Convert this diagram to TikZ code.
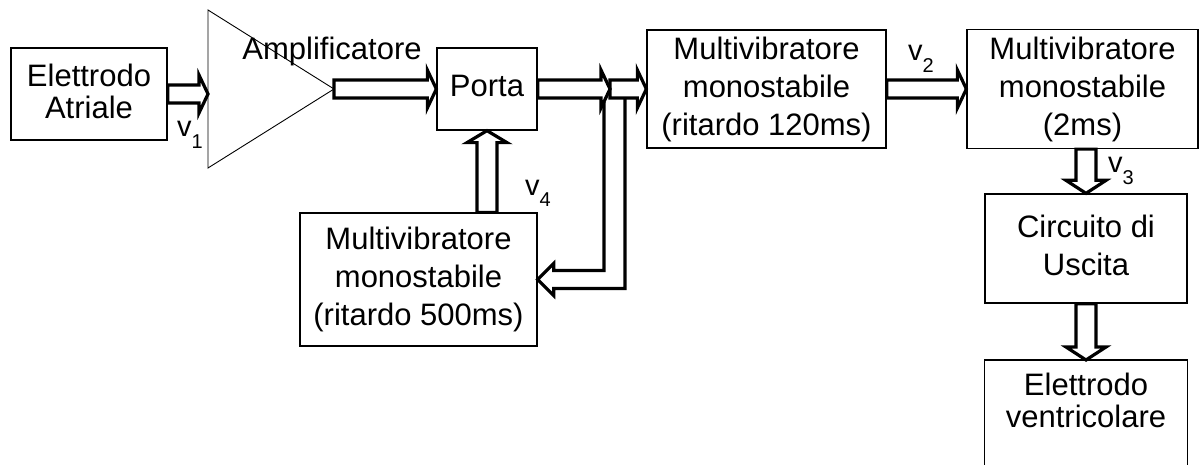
\documentclass[tikz,border=0pt]{standalone}
\usepackage{fontspec}
\setmainfont{Liberation Sans}
\usetikzlibrary{calc}

% freccia vuota orizzontale e verticale
\newcommand{\frecciaR}[2]{\draw[freccia] ($(#1)+(0,-9)$) -- ($(#2)+(-9,-9)$) -- ($(#2)+(-9,-19)$) -- (#2) -- ($(#2)+(-9,19)$) -- ($(#2)+(-9,9)$) -- ($(#1)+(0,9)$) -- cycle;}
\newcommand{\frecciaV}[3]{\draw[freccia] ($(#1)+(-10,0)$) -- ($(#2)+(-10,#3)$) -- ($(#2)+(-20,#3)$) -- (#2) -- ($(#2)+(20,#3)$) -- ($(#2)+(10,#3)$) -- ($(#1)+(10,0)$) -- cycle;}
\newcommand{\segn}[1]{v\raisebox{-12pt}{\fontsize{20}{20}\selectfont #1}}

\begin{document}
\begin{tikzpicture}[x=1pt,y=-1pt,font=\fontsize{31}{38}\selectfont,
  blocco/.style={draw,line width=1.3pt,inner sep=0pt,align=center,text depth=6pt},
  freccia/.style={line width=3.2pt},
  etichetta/.style={inner sep=0pt,anchor=base west,font=\fontsize{29}{29}\selectfont}]
  \useasboundingbox (0,0) rectangle (1201,465);
  \node[blocco,minimum width=156,minimum height=92,font=\fontsize{31}{32}\selectfont] (atr) at (89,94) {Elettrodo\\Atriale};
  \draw[line width=0.9pt] (208,10) coordinate (ampA) -- (334,89) coordinate (ampU) -- (208,168) -- cycle;
  \node[inner sep=0pt,anchor=base] (amp) at (332,60) {Amplificatore};
  \node[blocco,minimum width=100,minimum height=82] (porta) at (487,89) {Porta};
  \node[blocco,minimum width=239,minimum height=118] (mm120) at (766.5,89) {Multivibratore\\monostabile\\(ritardo 120ms)};
  \node[blocco,minimum width=231,minimum height=119] (mm2) at (1082.5,89) {Multivibratore\\monostabile\\(2ms)};
  \node[blocco,minimum width=202,minimum height=109] (usc) at (1086,248.5) {Circuito di\\Uscita};
  \node[blocco,minimum width=237,minimum height=133] (mm500) at (418.5,279.5) {Multivibratore\\monostabile\\(ritardo 500ms)};
  \node[inner sep=0pt,minimum width=202,minimum height=80,anchor=north,align=center,font=\fontsize{31}{32}\selectfont] (ventr) at (1086,360) {Elettrodo\\ventricolare};
  \draw[line width=1.3pt] ([yshift=-40pt]ventr.south west) |- (ventr.north east) -- ([yshift=-40pt]ventr.south east);
  % collegamenti
  \coordinate (j) at (610,89);
  \frecciaR{atr.east}{atr.east -| ampA}
  \frecciaR{ampU}{porta.west}
  \frecciaR{porta.east}{j}
  \frecciaR{j}{mm120.west}
  \frecciaR{mm120.east}{mm2.west}
  \frecciaV{usc.north |- mm2.south}{usc.north}{-13}
  \frecciaV{usc.south}{ventr.north}{-13}
  \frecciaV{porta.south |- mm500.north}{porta.south}{12}
  \draw[freccia] ($(j)+(15,9)$) |- ($(mm500.east)+(16,9)$) -- ++(0,7) -- (mm500.east) -- ++(16,-16) -- ++(0,7) -| ($(j)+(-6,13)$);
  \node[etichetta] (v1) at (177,137) {\segn{1}};
  \node[etichetta] (v2) at (908,61) {\segn{2}};
  \node[etichetta] (v3) at (1108,173) {\segn{3}};
  \node[etichetta] (v4) at (525,195) {\segn{4}};
\end{tikzpicture}
\end{document}
